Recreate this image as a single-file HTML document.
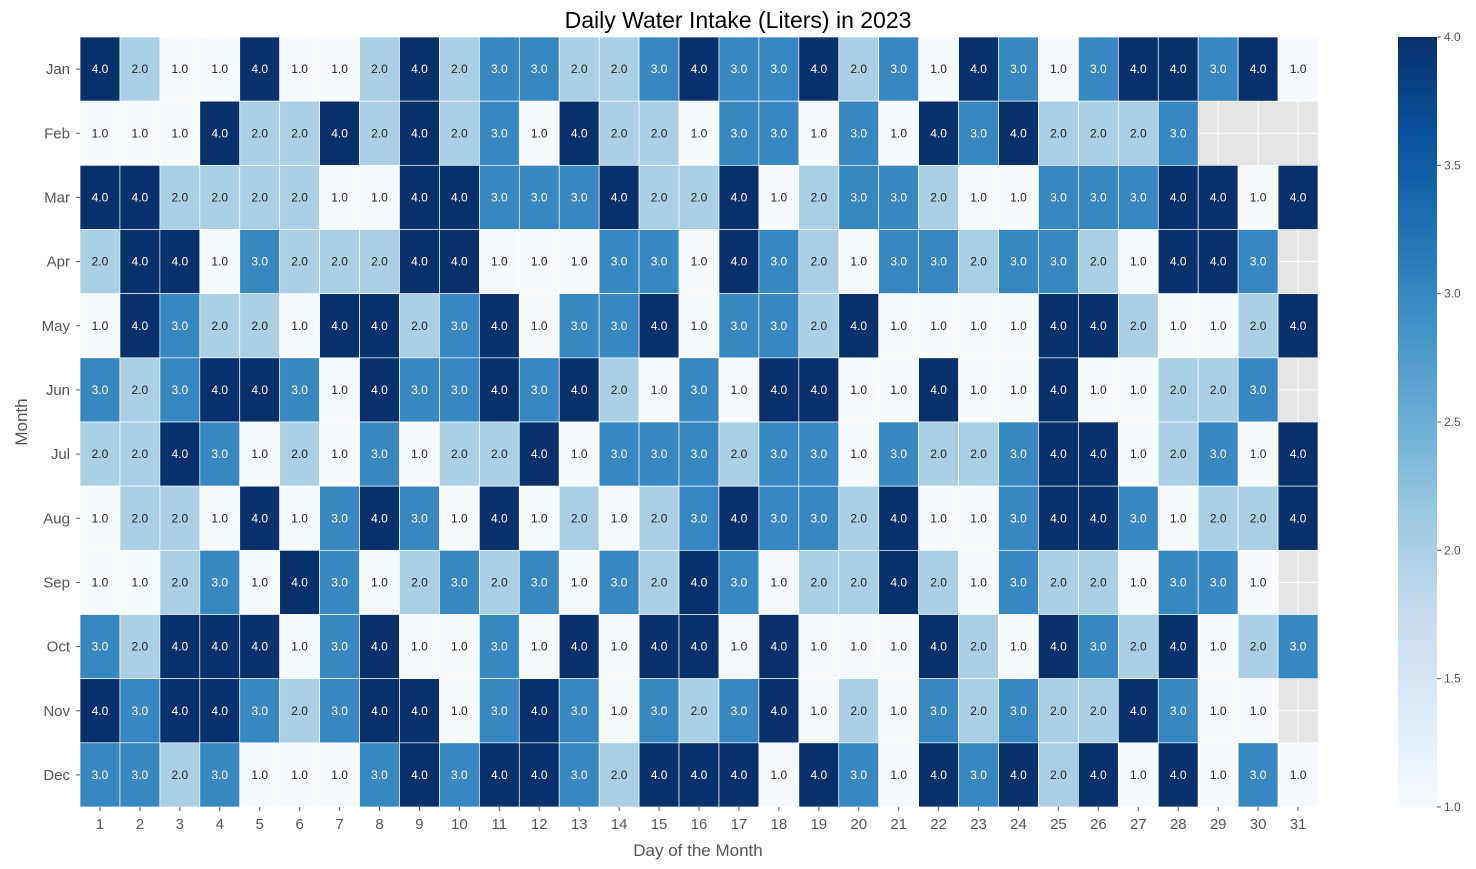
<!DOCTYPE html>
<html><head><meta charset="utf-8"><style>
body{margin:0;background:#fff;}
svg{display:block;font-family:"Liberation Sans","DejaVu Sans",sans-serif;}
</style></head><body>
<svg id="s" width="1476" height="869" xmlns="http://www.w3.org/2000/svg"></svg>
<script>
const D=[
"4 2 1 1 4 1 1 2 4 2 3 3 2 2 3 4 3 3 4 2 3 1 4 3 1 3 4 4 3 4 1",
"1 1 1 4 2 2 4 2 4 2 3 1 4 2 2 1 3 3 1 3 1 4 3 4 2 2 2 3",
"4 4 2 2 2 2 1 1 4 4 3 3 3 4 2 2 4 1 2 3 3 2 1 1 3 3 3 4 4 1 4",
"2 4 4 1 3 2 2 2 4 4 1 1 1 3 3 1 4 3 2 1 3 3 2 3 3 2 1 4 4 3",
"1 4 3 2 2 1 4 4 2 3 4 1 3 3 4 1 3 3 2 4 1 1 1 1 4 4 2 1 1 2 4",
"3 2 3 4 4 3 1 4 3 3 4 3 4 2 1 3 1 4 4 1 1 4 1 1 4 1 1 2 2 3",
"2 2 4 3 1 2 1 3 1 2 2 4 1 3 3 3 2 3 3 1 3 2 2 3 4 4 1 2 3 1 4",
"1 2 2 1 4 1 3 4 3 1 4 1 2 1 2 3 4 3 3 2 4 1 1 3 4 4 3 1 2 2 4",
"1 1 2 3 1 4 3 1 2 3 2 3 1 3 2 4 3 1 2 2 4 2 1 3 2 2 1 3 3 1",
"3 2 4 4 4 1 3 4 1 1 3 1 4 1 4 4 1 4 1 1 1 4 2 1 4 3 2 4 1 2 3",
"4 3 4 4 3 2 3 4 4 1 3 4 3 1 3 2 3 4 1 2 1 3 2 3 2 2 4 3 1 1",
"3 3 2 3 1 1 1 3 4 3 4 4 3 2 4 4 4 1 4 3 1 4 3 4 2 4 1 4 1 3 1"].map(r=>r.split(' ').map(Number));
const M=["Jan","Feb","Mar","Apr","May","Jun","Jul","Aug","Sep","Oct","Nov","Dec"];
const C={1:"#f7fbff",2:"#abd0e6",3:"#3787c0",4:"#08306b"};
const x0=80,x1=1318,y0=37,y1=807,cw=(x1-x0)/31,rh=(y1-y0)/12;
let h='';
h+=`<rect x="${x0}" y="${y0}" width="${x1-x0}" height="${y1-y0}" fill="#e5e5e5"/>`;
for(let j=0;j<31;j++){const x=x0+cw*(j+.5);h+=`<line x1="${x}" x2="${x}" y1="${y0}" y2="${y1}" stroke="#fff" stroke-width="1"/>`;}
for(let i=0;i<12;i++){const y=y0+rh*(i+.5);h+=`<line x1="${x0}" x2="${x1}" y1="${y}" y2="${y}" stroke="#fff" stroke-width="1"/>`;}
D.forEach((r,i)=>r.forEach((v,j)=>{const x=x0+cw*j,y=y0+rh*i;
h+=`<rect x="${x}" y="${y}" width="${cw}" height="${rh}" fill="${C[v]}" stroke="#fff" stroke-width="0.7"/>`;
h+=`<text x="${x+cw/2}" y="${y+rh/2+4}" font-size="12" text-anchor="middle" fill="${v>=3?'#fff':'#222'}">${v}.0</text>`;}));
for(let i=0;i<12;i++){const y=y0+rh*(i+.5);h+=`<line x1="${x0-4}" x2="${x0}" y1="${y}" y2="${y}" stroke="#555"/><text x="${x0-10}" y="${y+5}" font-size="15" text-anchor="end" fill="#555">${M[i]}</text>`;}
for(let j=0;j<31;j++){const x=x0+cw*(j+.5);h+=`<line x1="${x}" x2="${x}" y1="${y1}" y2="${y1+4}" stroke="#555"/><text x="${x}" y="${y1+22}" font-size="15" text-anchor="middle" fill="#555">${j+1}</text>`;}
h+=`<text x="738" y="28" font-size="23" text-anchor="middle" fill="#000">Daily Water Intake (Liters) in 2023</text>`;
h+=`<text x="698" y="856" font-size="17" text-anchor="middle" fill="#555">Day of the Month</text>`;
h+=`<text x="27" y="${(y0+y1)/2}" font-size="17" text-anchor="middle" fill="#555" transform="rotate(-90 27 ${(y0+y1)/2})">Month</text>`;
h+=`<defs><linearGradient id="g" x1="0" y1="1" x2="0" y2="0"><stop offset="0" stop-color="#f7fbff"/><stop offset=".125" stop-color="#deebf7"/><stop offset=".25" stop-color="#c6dbef"/><stop offset=".375" stop-color="#9ecae1"/><stop offset=".5" stop-color="#6baed6"/><stop offset=".625" stop-color="#4292c6"/><stop offset=".75" stop-color="#2171b5"/><stop offset=".875" stop-color="#08519c"/><stop offset="1" stop-color="#08306b"/></linearGradient></defs>`;
h+=`<rect x="1398" y="${y0}" width="39" height="${y1-y0}" fill="url(#g)"/>`;
for(let k=0;k<7;k++){const v=1+k*.5,y=y1-(v-1)/3*(y1-y0);h+=`<line x1="1437" x2="1441" y1="${y}" y2="${y}" stroke="#555"/><text x="1444" y="${y+4}" font-size="12" fill="#555">${v.toFixed(1)}</text>`;}
document.getElementById('s').innerHTML=h;
</script>
</body></html>
